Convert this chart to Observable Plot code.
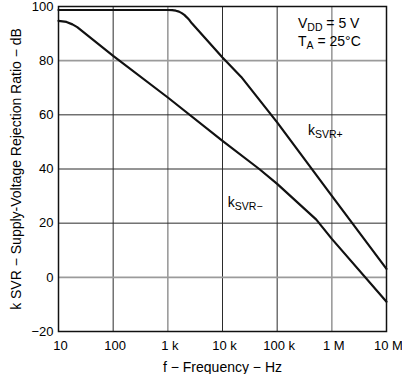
<!DOCTYPE html>
<html><head><meta charset="utf-8">
<script src="https://cdn.jsdelivr.net/npm/d3@7"></script>
<script src="https://cdn.jsdelivr.net/npm/@observablehq/plot@0.6"></script>
<style>body{margin:0;background:#fff}</style>
</head><body><div id="chart"></div>
<script>
// Data
const freqPlus = [10, 1000, 1200, 1400, 1600, 1800, 2000, 2250, 2500, 2750, 10000, 22000, 100000, 1e6, 1e7];
const kPlus    = [98.7, 98.7, 98.65, 98.45, 98.1, 97.55, 96.9, 95.9, 94.9, 93.8, 81.2, 74.0, 57.2, 30.1, 3.1];
const freqMinus = [10, 14, 18, 22, 100, 1000, 10000, 47000, 100000, 520000, 1e6, 1e7];
const kMinus    = [94.7, 94.3, 93.4, 92.4, 81.8, 66.4, 50.4, 40.0, 34.5, 21.3, 14.2, -9.0];

const xTicks = [10, 100, 1000, 10000, 100000, 1e6, 1e7];
const xTickLabels = ["10", "100", "1 k", "10 k", "100 k", "1 M", "10 M"];
const yTicks = [-20, 0, 20, 40, 60, 80, 100];

const xLabel = "f − Frequency − Hz";
const yLabel = "k SVR − Supply-Voltage Rejection Ratio − dB";

// annotations: text with |subscript| markers, positioned in data units
const annText = ["V|DD| = 5 V", "T|A| = 25°C", "k|SVR+|", "k|SVR−|"];
const annFreq = [240000, 240000, 367000, 12500];
const annValue = [93.7, 87.1, 54.2, 27.8];

const plusData = freqPlus.map((f, i) => ({f, k: kPlus[i]}));
const minusData = freqMinus.map((f, i) => ({f, k: kMinus[i]}));
const annData = annText.map((t, i) => ({t, f: annFreq[i], k: annValue[i]}));
const xLabelMap = new Map(xTicks.map((d, i) => [d, xTickLabels[i]]));

// grid rendering in the reference: some lines crisp dark, some soft gray
const softX = new Set([1000, 1e6]);
const softY = new Set([80, 0]);
const dark = "#2b2b2b", soft = "#9b9b9b";

const chart = Plot.plot({
  width: 402, height: 374,
  marginLeft: 58, marginRight: 16, marginTop: 6, marginBottom: 43,
  style: {fontFamily: "'Liberation Sans', Arial, sans-serif", fontSize: "13px", color: "#000", background: "#fff", overflow: "visible"},
  x: {type: "log", domain: [10, 1e7]},
  y: {domain: [-20, 100]},
  marks: [
    Plot.gridX(xTicks, {stroke: d => softX.has(d) ? soft : dark, strokeOpacity: 1, strokeWidth: d => softX.has(d) ? 1.6 : 1}),
    Plot.gridY(yTicks, {stroke: d => softY.has(d) ? soft : dark, strokeOpacity: 1, strokeWidth: d => softY.has(d) ? 1.6 : 1}),
    Plot.axisX(xTicks, {tickSize: 0, tickPadding: 9, tickFormat: d => xLabelMap.get(d), label: null, fontSize: 13, dx: 2}),
    Plot.axisY(yTicks, {tickSize: 0, tickPadding: 5, tickFormat: d => d < 0 ? "−" + Math.abs(d) : String(d), label: null, fontSize: 13}),
    Plot.line(plusData, {x: "f", y: "k", stroke: "#111", strokeWidth: 2.2}),
    Plot.line(minusData, {x: "f", y: "k", stroke: "#111", strokeWidth: 2.2}),
    Plot.frame({stroke: "#111", strokeWidth: 1.5}),
    Plot.text(annData, {x: "f", y: "k", text: "t", textAnchor: "start", fontSize: 14, lineAnchor: "middle"}),
    Plot.text([xLabel], {frameAnchor: "bottom", dy: 36, lineAnchor: "middle", textAnchor: "middle", text: d => d, fontSize: 14}),
    Plot.text([yLabel], {frameAnchor: "left", rotate: -90, dx: -42, lineAnchor: "middle", textAnchor: "middle", text: d => d, fontSize: 14})
  ]
});
document.getElementById("chart").appendChild(chart);

// build subscripts as tspans
d3.select(chart).selectAll("text").each(function() {
  const s = this.textContent;
  if (!s.includes("|")) return;
  const parts = s.split("|");
  const el = d3.select(this);
  el.text(null);
  el.append("tspan").text(parts[0]);
  el.append("tspan").attr("font-size", 10.5).attr("dy", 3).text(parts[1]);
  if (parts[2]) el.append("tspan").attr("dy", -3).text(parts[2]);
});
</script>
</body></html>
